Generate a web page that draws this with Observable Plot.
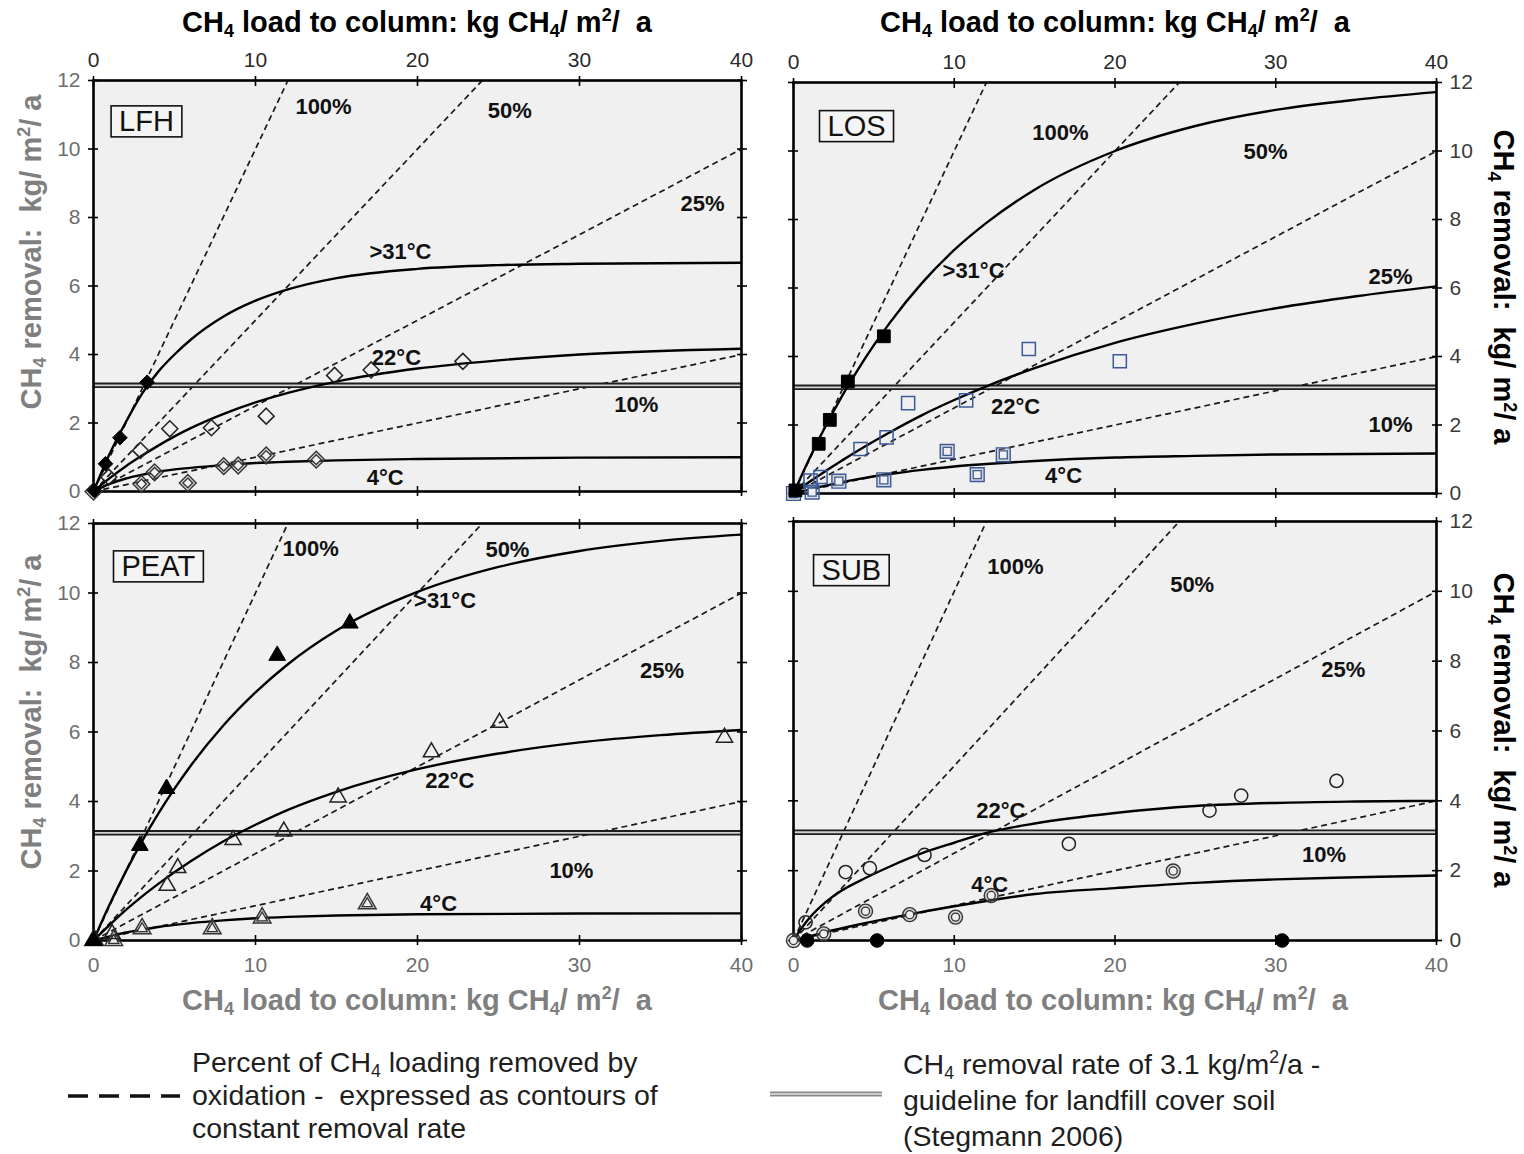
<!DOCTYPE html>
<html>
<head>
<meta charset="utf-8">
<script src="https://cdn.jsdelivr.net/npm/d3@7"></script>
<script src="https://cdn.jsdelivr.net/npm/@observablehq/plot@0.6"></script>
<style>
  body { margin: 0; background: #fff; }
  #fig { position: relative; width: 1524px; height: 1154px; background: #fff; overflow: hidden;
         font-family: "Liberation Sans", Arial, sans-serif; }
  #fig svg { position: absolute; overflow: visible; }
  .ttl { position: absolute; white-space: nowrap; font-weight: bold; font-size: 29px; transform: translate(-50%, -50%); }
  .rotl { transform: translate(-50%, -50%) rotate(-90deg); }
  .rotr { transform: translate(-50%, -50%) rotate(90deg); }
  sub { font-size: 0.62em; vertical-align: -0.3em; line-height: 0; }
  sup { font-size: 0.62em; vertical-align: 0.6em; line-height: 0; }
  .leg { position: absolute; font-size: 28.5px; color: #1e1e1e; white-space: nowrap; }
</style>
</head>
<body>
<div id="fig"></div>
<script>
// ---------- data ----------
const xTicks = [0, 10, 20, 30, 40];
const yTicks = [0, 2, 4, 6, 8, 10, 12];
const guideline = [3.1];
const contours = [
  {pct: "100%", x1: 0, y1: 0, x2: 40, y2: 40},
  {pct: "50%",  x1: 0, y1: 0, x2: 40, y2: 20},
  {pct: "25%",  x1: 0, y1: 0, x2: 40, y2: 10},
  {pct: "10%",  x1: 0, y1: 0, x2: 40, y2: 4}
];

// LFH
const lfhHot  = [[0.05,0.03],[0.74,0.81],[1.63,1.57],[3.31,3.19]];
const lfhMid  = [[0.94,0.42],[2.9,1.2],[4.71,1.83],[7.28,1.86],[10.66,2.2],[14.88,3.39],[17.14,3.55],[22.8,3.8]];
const lfhCold = [[0,0],[2.96,0.22],[3.77,0.56],[5.82,0.25],[8.04,0.74],[8.93,0.76],[10.66,1.05],[13.75,0.93]];
const lfhHotCurve  = [[0,0],[1,1.1],[2,2.03],[3,2.86],[4,3.5],[5,4.0],[6,4.43],[8,5.1],[10,5.57],[12,5.9],[15,6.23],[20,6.5],[25,6.61],[30,6.65],[40,6.68]];
const lfhMidCurve  = [[0,0],[1,0.39],[2,0.74],[3,1.05],[4,1.34],[5,1.61],[6,1.85],[8,2.26],[10,2.6],[12,2.88],[15,3.21],[20,3.59],[25,3.83],[30,4.0],[40,4.17]];
const lfhColdCurve = [[0,0],[1,0.22],[2,0.38],[3,0.49],[4,0.58],[6,0.69],[8,0.77],[10,0.83],[12,0.87],[15,0.91],[20,0.95],[30,0.99],[40,1.0]];
const lfhLabels = [["100%",14.2,11.24],["50%",25.7,11.1],["25%",37.6,8.4],[">31°C",18.95,6.98],["22°C",18.7,3.91],["10%",33.5,2.54],["4°C",18.0,0.41]];

// LOS
const losHot  = [[0.12,0.09],[1.57,1.45],[2.26,2.15],[3.38,3.27],[5.62,4.59]];
const losMid  = [[1.06,0.38],[1.68,0.48],[4.17,1.3],[5.79,1.64],[7.13,2.64],[10.74,2.72],[14.64,4.22],[20.3,3.86]];
const losCold = [[0,0],[1.16,0.04],[2.82,0.36],[5.62,0.4],[9.56,1.23],[11.43,0.55],[13.05,1.13]];
const losHotCurve  = [[0,0],[1,1.03],[2,1.97],[3,2.83],[4,3.61],[5,4.33],[6,4.99],[8,6.15],[10,7.11],[12,7.9],[15,8.87],[20,10.0],[25,10.73],[30,11.2],[35,11.5],[40,11.72]];
const losMidCurve  = [[0,0],[1,0.34],[2,0.66],[3,0.96],[4,1.25],[6,1.79],[8,2.29],[10,2.73],[12,3.13],[15,3.66],[20,4.4],[25,4.96],[30,5.41],[35,5.76],[40,6.05]];
const losColdCurve = [[0,0],[1,0.12],[2,0.23],[3,0.33],[4,0.42],[6,0.57],[8,0.69],[10,0.79],[12,0.86],[15,0.95],[20,1.05],[25,1.1],[30,1.14],[40,1.17]];
const losLabels = [["100%",16.6,10.54],["50%",29.36,9.96],[">31°C",11.2,6.51],["25%",37.14,6.31],["22°C",13.81,2.54],["10%",37.14,1.99],["4°C",16.8,0.5]];

// PEAT
const peatHot  = [[0,0],[2.86,2.73],[4.51,4.37],[11.34,8.2],[15.82,9.13]];
const peatMid  = [[0.1,0],[1.15,0.19],[4.55,1.58],[5.2,2.09],[8.62,2.9],[11.75,3.14],[15.1,4.12],[20.86,5.42],[25.06,6.27],[38.95,5.84]];
const peatCold = [[0,0],[1.25,0],[3.0,0.34],[7.33,0.34],[10.41,0.65],[16.9,1.06]];
const peatHotCurve  = [[0,0],[1,1.04],[2,1.99],[3,2.86],[4,3.65],[5,4.37],[6,5.03],[8,6.18],[10,7.14],[12,7.95],[15,8.92],[20,10.03],[25,10.75],[30,11.21],[35,11.5],[40,11.68]];
const peatMidCurve  = [[0,0],[1,0.45],[2,0.88],[3,1.27],[4,1.63],[6,2.28],[8,2.85],[10,3.33],[12,3.76],[15,4.28],[20,4.93],[25,5.38],[30,5.7],[35,5.91],[40,6.06]];
const peatColdCurve = [[0,0],[1,0.12],[2,0.23],[3,0.31],[4,0.39],[6,0.5],[8,0.58],[10,0.64],[12,0.68],[15,0.72],[20,0.755],[30,0.775],[40,0.78]];
const peatLabels = [["100%",13.4,11.28],["50%",25.55,11.25],[">31°C",21.7,9.76],["25%",35.1,7.77],["22°C",22.0,4.58],["10%",29.5,2.01],["4°C",21.3,1.06]];

// SUB
const subZero = [[0.85,0],[5.2,0],[30.4,0]];
const subMid  = [[0.75,0.52],[3.24,1.96],[4.75,2.07],[8.15,2.45],[17.13,2.77],[25.88,3.72],[27.85,4.15],[33.78,4.57]];
const subCold = [[0,0],[1.88,0.19],[4.48,0.84],[7.23,0.74],[10.08,0.67],[12.3,1.29],[23.62,1.99]];
const subMidCurve  = [[0,0],[0.5,0.35],[1,0.65],[2,1.1],[3,1.43],[4,1.68],[6,2.12],[8,2.5],[10,2.8],[12,3.08],[15,3.35],[20,3.65],[25,3.85],[30,3.94],[35,3.98],[40,4.0]];
const subColdCurve = [[0,0],[1,0.12],[2,0.24],[4,0.45],[6,0.64],[8,0.82],[10,0.98],[12,1.13],[15,1.33],[20,1.5],[25,1.65],[30,1.75],[35,1.81],[40,1.86]];
const subLabels = [["100%",13.8,10.69],["50%",24.8,10.17],["25%",34.2,7.74],["22°C",12.9,3.72],["10%",33.0,2.44],["4°C",12.2,1.58]];

const titleX = 'CH<sub>4</sub> load to column: kg CH<sub>4</sub>/ m<sup>2</sup>/&nbsp; a';
const titleY = 'CH<sub>4</sub> removal:&nbsp; kg/ m<sup>2</sup>/ a';
const legendDashed = ['Percent of CH<sub>4</sub> loading removed by', 'oxidation -&nbsp; expressed as contours of', 'constant removal rate'];
const legendDouble = ['CH<sub>4</sub> removal rate of 3.1 kg/m<sup>2</sup>/a -', 'guideline for landfill cover soil', '(Stegmann 2006)'];

// ---------- panels ----------
const BLUE = "#3c5a97";
const panels = [
  {name: "LFH", nameAt: [3.27, 10.8], left: 0, top: 0, w: 762, h: 505, m: [80, 21, 14, 93], xl: "top", yl: "left",
   curves: [lfhHotCurve, lfhMidCurve, lfhColdCurve], labels: lfhLabels,
   markers: [{pts: lfhCold, sym: "diamond2", kind: "double", r: 7.6, color: "#333"},
             {pts: lfhMid, sym: "diamond2", kind: "open", r: 7.2, color: "#222"},
             {pts: lfhHot, sym: "diamond2", kind: "filled", r: 6.6, color: "#000"}]},
  {name: "LOS", nameAt: [3.92, 10.72], left: 762, top: 0, w: 762, h: 505, m: [82, 88, 12, 31], xl: "top", yl: "right",
   curves: [losHotCurve, losMidCurve, losColdCurve], labels: losLabels,
   markers: [{pts: losCold, sym: "square", kind: "double", r: 7.8, color: BLUE},
             {pts: losMid, sym: "square", kind: "open", r: 7.4, color: BLUE},
             {pts: losHot, sym: "square", kind: "filled", r: 7.2, color: "#000"}]},
  {name: "PEAT", nameAt: [4.0, 10.76], left: 0, top: 505, w: 762, h: 510, m: [18, 21, 75, 93], xl: "bottom", yl: "left",
   curves: [peatHotCurve, peatMidCurve, peatColdCurve], labels: peatLabels,
   markers: [{pts: peatCold, sym: "triangle", kind: "double", r: 6.6, color: "#333"},
             {pts: peatMid, sym: "triangle", kind: "open", r: 6.0, color: "#222"},
             {pts: peatHot, sym: "triangle", kind: "filled", r: 6.2, color: "#000"}]},
  {name: "SUB", nameAt: [3.6, 10.6], left: 762, top: 505, w: 762, h: 510, m: [16, 88, 75, 31], xl: "bottom", yl: "right",
   curves: [subMidCurve, subColdCurve], labels: subLabels,
   markers: [{pts: subCold, sym: "circle", kind: "double", r: 7.0, color: "#333"},
             {pts: subMid, sym: "circle", kind: "open", r: 6.6, color: "#222"},
             {pts: subZero, sym: "circle", kind: "filled", r: 6.8, color: "#000"}]}
];

const TICKFONT = "'Liberation Sans Narrow', 'Arial Narrow', 'Liberation Sans', Arial, sans-serif";
const LABFONT = "'Liberation Sans', Arial, sans-serif";

function axisMarks(p) {
  const blank = () => "";
  const common = {label: null, stroke: "#000", strokeWidth: 1.6, fontSize: 21, fontFamily: TICKFONT};
  return [
    Plot.axisX({...common, ticks: xTicks, anchor: "top", tickSize: 10, dy: 5, tickPadding: 9,
                fill: "#2a2a2a", tickFormat: p.xl === "top" ? d => String(d) : blank}),
    Plot.axisX({...common, ticks: xTicks, anchor: "bottom", tickSize: 10, dy: -5, tickPadding: 12,
                fill: "#6e6e6e", tickFormat: p.xl === "bottom" ? d => String(d) : blank}),
    Plot.axisY({...common, ticks: yTicks, anchor: "left", tickSize: 10, dx: 5, tickPadding: 8,
                fill: "#6e6e6e", tickFormat: p.yl === "left" ? d => String(d) : blank}),
    Plot.axisY({...common, ticks: yTicks, anchor: "right", tickSize: 10, dx: -5, tickPadding: 8,
                fill: "#3a3a3a", tickFormat: p.yl === "right" ? d => String(d) : blank})
  ];
}

function makePanel(p) {
  const [mt, mr, mb, ml] = p.m;
  const curveData = p.curves.flatMap((c, i) => c.map(([x, y]) => ({x, y, s: i})));
  const marks = [
    Plot.frame({fill: "#f0f0f0", stroke: "none"}),
    Plot.link(contours, {x1: "x1", y1: "y1", x2: "x2", y2: "y2", stroke: "#1a1a1a", strokeWidth: 1.7,
                         strokeDasharray: "6,4", clip: true}),
    Plot.ruleY(guideline, {stroke: "#1e1e1e", strokeWidth: 5.5}),
    Plot.ruleY(guideline, {stroke: "#d2d2d2", strokeWidth: 1.8}),
    Plot.line(curveData, {x: "x", y: "y", z: "s", curve: "monotone-x", stroke: "#000", strokeWidth: 2.4, clip: true}),
    Plot.frame({stroke: "#000", strokeWidth: 2.6}),
    ...axisMarks(p)
  ];
  for (const mk of p.markers) {
    const data = mk.pts.map(([x, y]) => ({x, y}));
    if (mk.kind === "filled") {
      marks.push(Plot.dot(data, {x: "x", y: "y", symbol: mk.sym, r: mk.r, fill: mk.color, stroke: mk.color, strokeWidth: 1}));
    } else if (mk.kind === "open") {
      marks.push(Plot.dot(data, {x: "x", y: "y", symbol: mk.sym, r: mk.r, fill: "none", stroke: mk.color, strokeWidth: 1.5}));
    } else {
      marks.push(Plot.dot(data, {x: "x", y: "y", symbol: mk.sym, r: mk.r, fill: "#9a9a9a", fillOpacity: 0.3, stroke: mk.color, strokeWidth: 1.4}));
      marks.push(Plot.dot(data, {x: "x", y: "y", symbol: mk.sym, r: mk.r * 0.58, fill: "#f0f0f0", stroke: mk.color, strokeWidth: 1.3}));
    }
  }
  const lab = p.labels.map(([t, x, y]) => ({t, x, y}));
  marks.push(Plot.text(lab, {x: "x", y: "y", text: "t", fontSize: 22, fontWeight: "bold", fontFamily: LABFONT, fill: "#111"}));
  marks.push(Plot.text([{t: p.name, x: p.nameAt[0], y: p.nameAt[1]}],
                       {x: "x", y: "y", text: "t", fontSize: 29, fontFamily: LABFONT, fill: "#111"}));
  const svg = Plot.plot({
    width: p.w, height: p.h,
    marginTop: mt, marginRight: mr, marginBottom: mb, marginLeft: ml,
    x: {domain: [0, 40]}, y: {domain: [0, 12]},
    style: {background: "transparent", fontFamily: TICKFONT, fontSize: "21px", overflow: "visible"},
    marks
  });
  svg.style.left = p.left + "px";
  svg.style.top = p.top + "px";
  svg.style.maxWidth = "none";
  return svg;
}

const fig = document.getElementById("fig");
for (const p of panels) {
  const svg = makePanel(p);
  fig.appendChild(svg);
  // box around the panel name
  const t = Array.from(svg.querySelectorAll("text")).find(e => e.textContent === p.name);
  if (t) {
    const bb = t.getBBox();
    const ns = "http://www.w3.org/2000/svg";
    const r = document.createElementNS(ns, "rect");
    r.setAttribute("x", bb.x - 8);
    r.setAttribute("y", bb.y + 1);
    r.setAttribute("width", bb.width + 16);
    r.setAttribute("height", bb.height - 1);
    r.setAttribute("fill", "#f4f4f4");
    r.setAttribute("stroke", "#111");
    r.setAttribute("stroke-width", "1.6");
    if (t.getAttribute("transform")) r.setAttribute("transform", t.getAttribute("transform"));
    t.parentNode.insertBefore(r, t);
  }
}

// ---------- titles ----------
function addDiv(cls, html, x, y, color) {
  const d = document.createElement("div");
  d.className = cls;
  d.innerHTML = html;
  d.style.left = x + "px";
  d.style.top = y + "px";
  d.style.color = color;
  fig.appendChild(d);
  return d;
}
addDiv("ttl", titleX, 417, 22, "#000");
addDiv("ttl", titleX, 1115, 22, "#000");
addDiv("ttl", titleX, 417, 1000, "#7f7f7f");
addDiv("ttl", titleX, 1113, 1000, "#7f7f7f");
addDiv("ttl rotl", titleY, 31, 252, "#7f7f7f");
addDiv("ttl rotl", titleY, 31, 712, "#7f7f7f");
addDiv("ttl rotr", titleY, 1503, 287, "#000");
addDiv("ttl rotr", titleY, 1503, 730, "#000");

// ---------- legend ----------
const legSvg = d3.create("svg").attr("width", 1524).attr("height", 1154).style("left", "0px").style("top", "0px")
  .style("pointer-events", "none");
legSvg.append("line").attr("x1", 68).attr("x2", 180).attr("y1", 1096).attr("y2", 1096)
  .attr("stroke", "#111").attr("stroke-width", 3.4).attr("stroke-dasharray", "20,11");
legSvg.append("line").attr("x1", 770).attr("x2", 882).attr("y1", 1094).attr("y2", 1094)
  .attr("stroke", "#8a8a8a").attr("stroke-width", 5);
legSvg.append("line").attr("x1", 770).attr("x2", 882).attr("y1", 1094).attr("y2", 1094)
  .attr("stroke", "#e2e2e2").attr("stroke-width", 1.5);
fig.appendChild(legSvg.node());

const l1 = addDiv("leg", legendDashed.join("<br>"), 192, 1046, "#1e1e1e");
l1.style.lineHeight = "33px";
const l2 = addDiv("leg", legendDouble.join("<br>"), 903, 1046, "#1e1e1e");
l2.style.lineHeight = "36px";
</script>
</body>
</html>
